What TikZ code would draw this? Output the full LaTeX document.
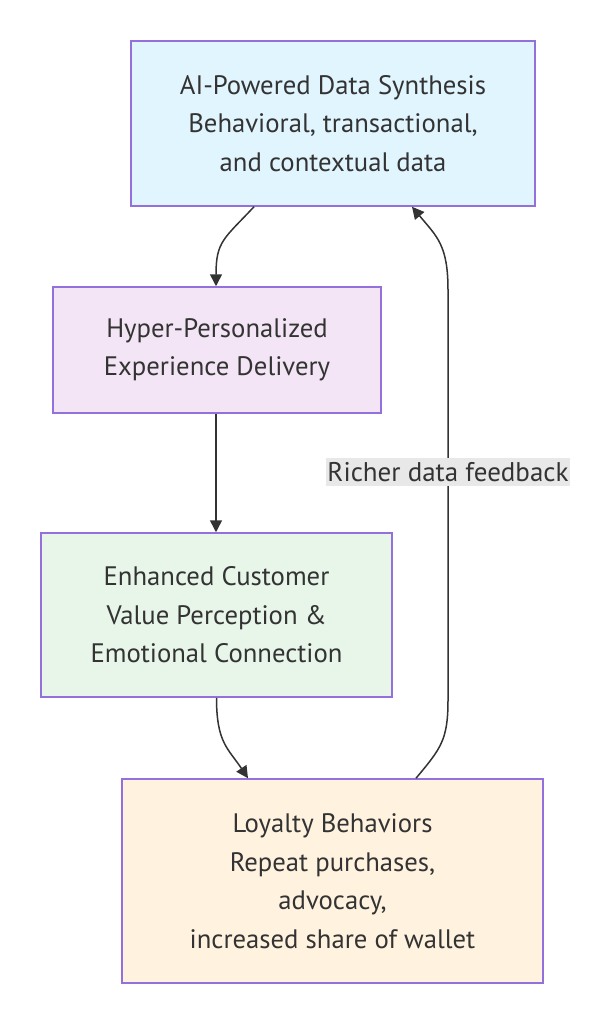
\documentclass[tikz,border=0pt]{standalone}
\usepackage{fontspec}
\setmainfont{PT Sans}
\usetikzlibrary{arrows.meta,calc}
\definecolor{txt}{HTML}{333333}
\definecolor{bord}{HTML}{9370DB}
\definecolor{fa}{HTML}{E1F5FE}
\definecolor{fb}{HTML}{F3E5F5}
\definecolor{fc}{HTML}{E8F5E9}
\definecolor{fd}{HTML}{FFF3E0}
\definecolor{lbl}{HTML}{E8E8E8}
\begin{document}
\begin{tikzpicture}[x=1pt,y=-1pt,
  box/.style={draw=bord,line width=1.5pt,align=center,inner sep=0pt,text=txt,
    font=\fontsize{26.7}{38.5}\selectfont},
  arr/.style={draw=txt,line width=1.5pt,-{Triangle[length=12pt,width=12pt]}},
  lab/.style={fill=lbl,text=txt,inner xsep=1pt,inner ysep=4pt,font=\fontsize{27}{30}\selectfont}]
\useasboundingbox (0,0) rectangle (613,1024);
\node[box,fill=fa,minimum width=404pt,minimum height=165pt] (b1) at (333,123.5)
  {AI-Powered Data Synthesis\\Behavioral, transactional,\\and contextual data};
\node[box,fill=fb,minimum width=328pt,minimum height=126pt] (b2) at (217,350)
  {Hyper-Personalized\\Experience Delivery};
\node[box,fill=fc,minimum width=351pt,minimum height=164pt] (b3) at (216.5,615)
  {Enhanced Customer\\Value Perception \&\\Emotional Connection};
\node[box,fill=fd,minimum width=421pt,minimum height=204pt] (b4) at (332.5,881)
  {Loyalty Behaviors\\Repeat purchases,\\advocacy,\\increased share of wallet};
\coordinate (c1) at (448,700);
\coordinate (c2) at (448,290);
\draw[arr] ([xshift=-79pt]b1.south) .. controls +(-30,32) and +(0,-45) .. ([xshift=-1pt]b2.north);
\draw[arr] ([xshift=-1pt]b2.south) -- ([xshift=-0.5pt]b3.north);
\draw[arr] (b3.south) .. controls +(0,45) and +(-20,-30) .. ([xshift=-84.5pt]b4.north);
\draw[arr] ([xshift=83.5pt]b4.north) .. controls +(25,-30) and +(0,40) .. (c1) -- (c2)
  .. controls +(0,-45) and +(25,30) .. ([xshift=79pt]b1.south);
\node[lab] (l) at (448,472) {Richer data feedback};
\end{tikzpicture}
\end{document}
